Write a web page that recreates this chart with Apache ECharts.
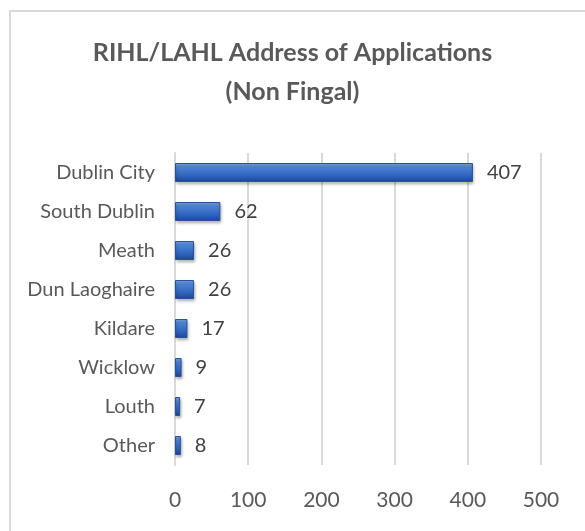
<!DOCTYPE html>
<html>
<head>
<meta charset="utf-8">
<script src="https://cdn.jsdelivr.net/npm/echarts@6/dist/echarts.min.js"></script>
<style>
  html, body { margin: 0; padding: 0; background: #fff; }
  #frame {
    position: absolute; left: 9px; top: 10px; width: 585px; height: 531px;
    border: 2px solid #d9d9d9; box-sizing: border-box;
  }
  #chart { position: absolute; left: 0; top: 0; width: 585px; height: 531px; }
</style>
</head>
<body>
<div id="frame"></div>
<div id="chart"></div>
<script>
// 数据
var categories = ['Dublin City', 'South Dublin', 'Meath', 'Dun Laoghaire', 'Kildare', 'Wicklow', 'Louth', 'Other'];
var applications = [407, 62, 26, 26, 17, 9, 7, 8];
var xTicks = [0, 100, 200, 300, 400, 500];

var chart = echarts.init(document.getElementById('chart'));
var option = {
  animation: false,
  title: {
    text: 'RIHL/LAHL Address of Applications\n(Non Fingal)',
    left: 'center',
    top: 28,
    textStyle: {
      fontFamily: 'Lato',
      fontSize: 25,
      fontWeight: 'bold',
      color: '#595959',
      lineHeight: 39
    }
  },
  grid: {
    left: 175,
    right: 44,
    top: 153,
    bottom: 66,
    containLabel: false
  },
  xAxis: {
    type: 'value',
    min: xTicks[0],
    max: xTicks[xTicks.length - 1],
    interval: 100,
    axisLine: { show: false },
    axisTick: { show: false },
    axisLabel: {
      margin: 25,
      fontFamily: 'Lato',
      fontSize: 21,
      color: '#595959'
    },
    splitLine: { show: true, lineStyle: { color: '#d9d9d9', width: 2 } }
  },
  yAxis: {
    type: 'category',
    inverse: true,
    data: categories,
    axisLine: { show: true, lineStyle: { color: '#d9d9d9', width: 2 } },
    axisTick: { show: false },
    axisLabel: {
      margin: 20,
      fontFamily: 'Lato',
      fontSize: 20,
      color: '#595959'
    }
  },
  series: [{
    name: 'Applications',
    type: 'bar',
    barWidth: 19,
    data: applications,
    itemStyle: {
      color: new echarts.graphic.LinearGradient(0, 0, 0, 1, [
        { offset: 0, color: '#7aa8e6' },
        { offset: 0.25, color: '#4a82d6' },
        { offset: 0.7, color: '#2d62bc' },
        { offset: 1, color: '#1c4690' }
      ]),
      borderColor: '#2a5298',
      borderWidth: 1,
      shadowColor: 'rgba(0,0,0,0.3)',
      shadowBlur: 3,
      shadowOffsetX: 1,
      shadowOffsetY: 2
    },
    label: {
      show: true,
      position: 'right',
      distance: 14,
      fontFamily: 'Lato',
      fontSize: 20,
      color: '#404040'
    }
  }]
};
chart.setOption(option);
</script>
</body>
</html>
